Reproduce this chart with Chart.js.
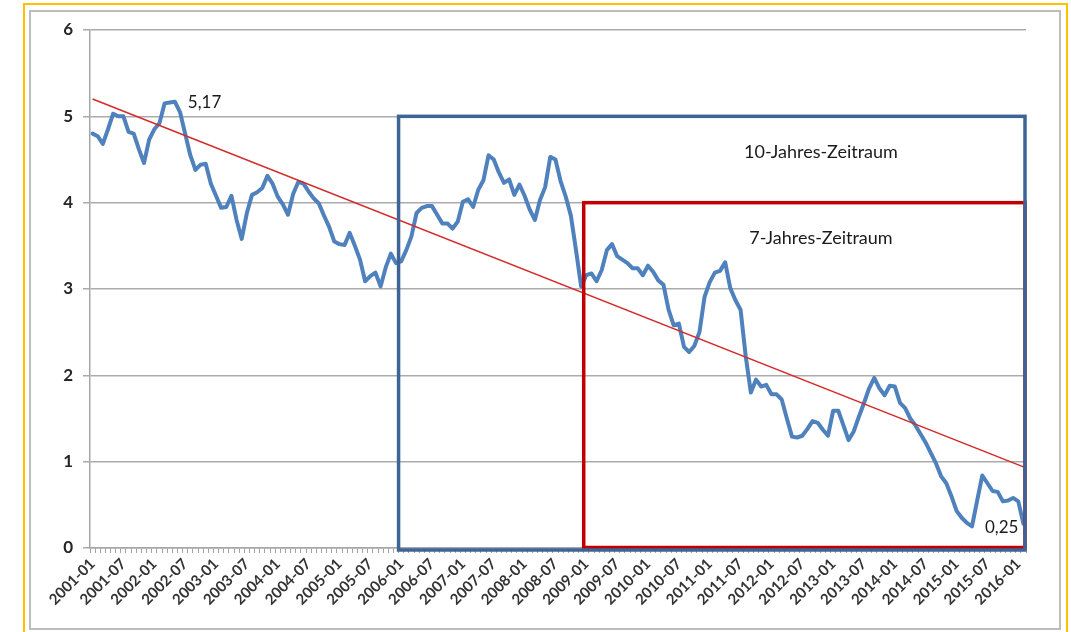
<!DOCTYPE html>
<html>
<head>
<meta charset="utf-8">
<script src="https://cdn.jsdelivr.net/npm/chart.js@4.4.1/dist/chart.umd.min.js"></script>
<style>
    html, body { margin: 0; padding: 0; background: #fff; }
    #wrap { position: relative; width: 1071px; height: 632px; overflow: hidden; }
    #outer { position: absolute; left: 23px; top: 3px; width: 1045px; height: 650px; border: 2px solid #ffc000; box-sizing: border-box; }
    #inner { position: absolute; left: 29px; top: 10px; width: 1032px; height: 620px; border: 2px solid #bdbdbd; box-sizing: border-box; }
    #box { position: absolute; left: 0; top: 0; width: 1071px; height: 632px; }
</style>
</head>
<body>
<div id="wrap">
    <div id="outer"></div>
    <div id="inner"></div>
    <div id="box"><canvas id="yield-canvas"></canvas></div>
</div>
<script>
// Monthly categories, 2001-01 .. 2016-02
const firstYear = 2001;
const monthCount = 182;
const months = [];
for (let i = 0; i < monthCount; i++) {
    const y = firstYear + Math.floor(i / 12);
    const m = (i % 12) + 1;
    months.push(y + "-" + String(m).padStart(2, "0"));
}

// Yield per month (%), one row per year
const yields = [
    4.80, 4.77, 4.68, 4.85, 5.03, 5.00, 5.00, 4.82, 4.80, 4.62, 4.46, 4.73,
    4.85, 4.92, 5.15, 5.16, 5.17, 5.05, 4.80, 4.55, 4.38, 4.44, 4.45, 4.22,
    4.08, 3.94, 3.95, 4.08, 3.80, 3.58, 3.88, 4.09, 4.12, 4.17, 4.31, 4.22,
    4.07, 3.98, 3.86, 4.10, 4.24, 4.22, 4.13, 4.05, 3.99, 3.85, 3.72, 3.55,
    3.52, 3.51, 3.65, 3.50, 3.34, 3.09, 3.15, 3.19, 3.03, 3.25, 3.41, 3.30,
    3.32, 3.45, 3.61, 3.88, 3.94, 3.96, 3.96, 3.86, 3.76, 3.76, 3.70, 3.78,
    4.01, 4.04, 3.95, 4.15, 4.26, 4.55, 4.50, 4.35, 4.23, 4.27, 4.09, 4.21,
    4.08, 3.92, 3.80, 4.03, 4.18, 4.53, 4.50, 4.25, 4.07, 3.85, 3.45, 3.03,
    3.16, 3.18, 3.09, 3.22, 3.45, 3.52, 3.38, 3.34, 3.30, 3.24, 3.24, 3.16,
    3.27, 3.20, 3.10, 3.05, 2.76, 2.58, 2.60, 2.33, 2.27, 2.34, 2.50, 2.91,
    3.08, 3.19, 3.21, 3.31, 3.01, 2.87, 2.76, 2.22, 1.80, 1.95, 1.87, 1.89,
    1.78, 1.78, 1.72, 1.50, 1.29, 1.28, 1.30, 1.38, 1.47, 1.45, 1.37, 1.30,
    1.59, 1.59, 1.42, 1.25, 1.35, 1.52, 1.68, 1.85, 1.97, 1.85, 1.77, 1.88,
    1.87, 1.68, 1.62, 1.50, 1.42, 1.32, 1.22, 1.10, 0.98, 0.83, 0.75, 0.60,
    0.43, 0.35, 0.29, 0.25, 0.55, 0.84, 0.75, 0.66, 0.65, 0.54, 0.55, 0.58,
    0.54, 0.28,
];

// Linear trend, value at first and last month
const trendEnds = [5.20, 0.94];

// Months whose value is written next to the line
const markedMonths = ["2002-05", "2015-04"];

// Highlighted periods: start month and upper bound
const periodNames = ["10-Jahres-Zeitraum", "7-Jahres-Zeitraum"];
const periodStarts = ["2006-01", "2009-01"];
const periodTops = [5, 4];

const yTicks = [0, 1, 2, 3, 4, 5, 6];

const FONT = "Lato, 'Open Sans', sans-serif";

// frames, period names and the value labels, drawn over the lines
const overlayPlugin = {
    id: "overlay",
    afterDatasetsDraw(chart) {
        const { ctx, chartArea, scales: { x, y } } = chart;
        const half = (x.getPixelForValue(1) - x.getPixelForValue(0)) / 2;
        const frameColors = ["#3e6495", "#c00000"];
        const frameWidths = [3.5, 3.5];
        const bottomShift = [2, -0.5];
        ctx.save();
        // red frame first, the blue one lies on top of it
        for (let k = periodStarts.length - 1; k >= 0; k--) {
            const left = x.getPixelForValue(months.indexOf(periodStarts[k])) - half;
            const right = chartArea.right - 1;
            const top = y.getPixelForValue(periodTops[k]);
            const bottom = y.getPixelForValue(0) + bottomShift[k];
            ctx.strokeStyle = frameColors[k];
            ctx.lineWidth = frameWidths[k];
            ctx.lineJoin = "miter";
            ctx.strokeRect(left, top, right - left, bottom - top);
        }
        ctx.fillStyle = "#1a1a1a";
        ctx.font = "18px " + FONT;
        ctx.textAlign = "center";
        ctx.textBaseline = "middle";
        periodNames.forEach((name, k) => {
            const top = y.getPixelForValue(periodTops[k]);
            ctx.fillText(name, chartArea.right - 205, top + 36);
        });
        ctx.font = "17px " + FONT;
        ctx.textAlign = "left";
        markedMonths.forEach(m => {
            const i = months.indexOf(m);
            const px = x.getPixelForValue(i);
            const py = y.getPixelForValue(yields[i]);
            ctx.fillText(yields[i].toFixed(2).replace(".", ","), px + 13, py + 1);
        });
        ctx.restore();
    },
};

const chart = new Chart("yield-canvas", {
    type: "line",
    data: {
        labels: months,
        datasets: [
            {
                data: yields,
                borderColor: "#4f81bd",
                borderWidth: 4,
                pointRadius: 0,
                tension: 0,
                borderJoinStyle: "round",
                borderCapStyle: "round",
                order: 2,
            },
            {
                data: [
                    { x: months[0], y: trendEnds[0] },
                    { x: months[months.length - 1], y: trendEnds[1] },
                ],
                borderColor: "#d42a2a",
                borderWidth: 1.5,
                pointRadius: 0,
                tension: 0,
                order: 1,
            },
        ],
    },
    options: {
        responsive: true,
        maintainAspectRatio: false,
        animation: false,
        devicePixelRatio: 1,
        layout: { padding: { left: 0, right: 45, top: 30, bottom: 0 } },
        scales: {
            x: {
                type: "category",
                offset: true,
                grid: {
                    offset: true,
                    drawOnChartArea: false,
                    tickLength: 5,
                    color: "#a3a3a3",
                },
                border: { color: "#a6a6a6", width: 1.5 },
                ticks: {
                    autoSkip: false,
                    minRotation: 45,
                    maxRotation: 45,
                    padding: 2,
                    color: "#333",
                    font: { family: FONT, size: 15, weight: "bold" },
                    callback(value, index) {
                        return index % 6 === 0 ? this.getLabelForValue(value) : "";
                    },
                },
                afterFit(scale) { scale.height = 84; },
            },
            y: {
                min: yTicks[0],
                max: yTicks[yTicks.length - 1],
                afterBuildTicks(scale) { scale.ticks = yTicks.map(v => ({ value: v })); },
                grid: { color: "#ababab", lineWidth: 1.5, tickLength: 7 },
                border: { color: "#a6a6a6", width: 1.5 },
                ticks: {
                    padding: 10,
                    color: "#262626",
                    font: { family: FONT, size: 17, weight: "bold" },
                },
                afterFit(scale) { scale.width = 90; },
            },
        },
        plugins: {
            legend: { display: false },
            tooltip: { enabled: false },
        },
    },
    plugins: [overlayPlugin],
});
</script>
</body>
</html>
